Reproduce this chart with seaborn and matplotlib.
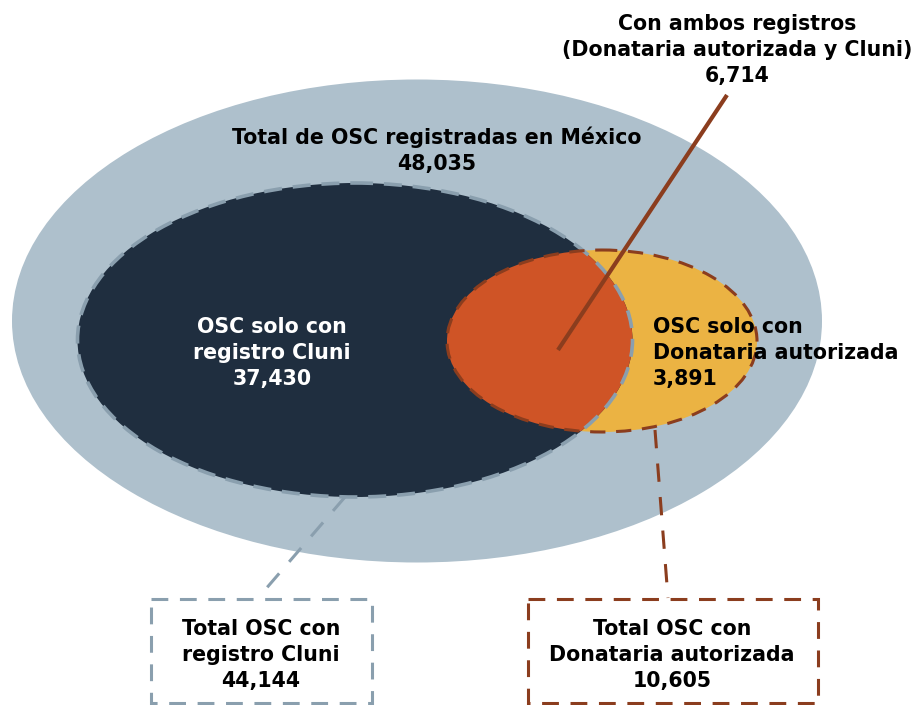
import matplotlib
matplotlib.use("Agg")
import matplotlib.pyplot as plt
from matplotlib.patches import Ellipse, Rectangle
import seaborn as sns

# ---- data ----
region_labels = ["Total de OSC registradas en México",
                 "OSC solo con\nregistro Cluni",
                 "OSC solo con\nDonataria autorizada",
                 "Con ambos registros\n(Donataria autorizada y Cluni)"]
region_values = [48035, 37430, 3891, 6714]
total_labels = ["Total OSC con\nregistro Cluni", "Total OSC con\nDonataria autorizada"]
total_values = [44144, 10605]

sns.set_theme(style="white")
plt.rcParams['font.family'] = ['DejaVu Sans']

palette = sns.color_palette(["#AEC0CC", "#1F2E3F", "#EBB343", "#CF5426", "#8A9FAE", "#8B3D1E"])
c_outer, c_dark, c_yellow, c_orange, c_gray, c_brown = palette

fig = plt.figure(figsize=(9.2, 7.05), dpi=100)
ax = fig.add_axes([0, 0, 1, 1])
ax.set_xlim(0, 920)
ax.set_ylim(705, 0)
ax.axis("off")

fmt = lambda v: f"{v:,}"

# outer ellipse
ax.add_patch(Ellipse((417, 321), 810, 483, facecolor=c_outer, edgecolor="none", zorder=1))
# donataria ellipse (yellow)
ax.add_patch(Ellipse((602, 341), 310, 182, facecolor=c_yellow, edgecolor="none", zorder=2))
# cluni ellipse (dark)
dark = Ellipse((355, 340), 555, 314, facecolor=c_dark, edgecolor="none", zorder=3)
ax.add_patch(dark)
# overlap (orange), clipped to dark ellipse
ov = Ellipse((602, 341), 310, 182, facecolor=c_orange, edgecolor="none", zorder=4)
ax.add_patch(ov)
ov.set_clip_path(dark)

# dashed borders
ax.add_patch(Ellipse((355, 340), 555, 314, facecolor="none", edgecolor=c_gray,
                     lw=2.6, linestyle=(0, (5, 3)), zorder=5))
ax.add_patch(Ellipse((602, 341), 310, 182, facecolor="none", edgecolor=c_brown,
                     lw=2.2, linestyle=(0, (5, 3.5)), zorder=6))

# leader line for overlap
ax.plot([558, 727], [350, 95], color=c_brown, lw=3, solid_capstyle="butt", zorder=7)

# leader dashed lines to boxes
ax.plot([345, 258], [497, 598], color=c_gray, lw=2.2, linestyle=(0, (6, 5)), zorder=7)
ax.plot([655, 668], [430, 598], color=c_brown, lw=2.2, linestyle=(0, (6, 5)), zorder=7)

# boxes
ax.add_patch(Rectangle((151, 599), 221, 104, facecolor="none", edgecolor=c_gray,
                       lw=2.2, linestyle=(0, (5.5, 3.8)), zorder=7))
ax.add_patch(Rectangle((528, 599), 290, 104, facecolor="none", edgecolor=c_brown,
                       lw=2.2, linestyle=(0, (5.5, 3.8)), zorder=7))

fs = 14.8
tk = dict(fontsize=fs, fontweight="bold", linespacing=1.4, zorder=10)

ax.text(437, 150, region_labels[0] + "\n" + fmt(region_values[0]),
        ha="center", va="center", color="black", **tk)
ax.text(272, 353, region_labels[1] + "\n" + fmt(region_values[1]),
        ha="center", va="center", color="white", **tk)
ax.text(653, 353, region_labels[2] + "\n" + fmt(region_values[2]),
        ha="left", va="center", color="black", **tk)
ax.text(737, 50, region_labels[3] + "\n" + fmt(region_values[3]),
        ha="center", va="center", color="black", **tk)
ax.text(261, 655, total_labels[0] + "\n" + fmt(total_values[0]),
        ha="center", va="center", color="black", **tk)
ax.text(672, 655, total_labels[1] + "\n" + fmt(total_values[1]),
        ha="center", va="center", color="black", **tk)

fig.savefig("out.png", dpi=100, facecolor="white")
